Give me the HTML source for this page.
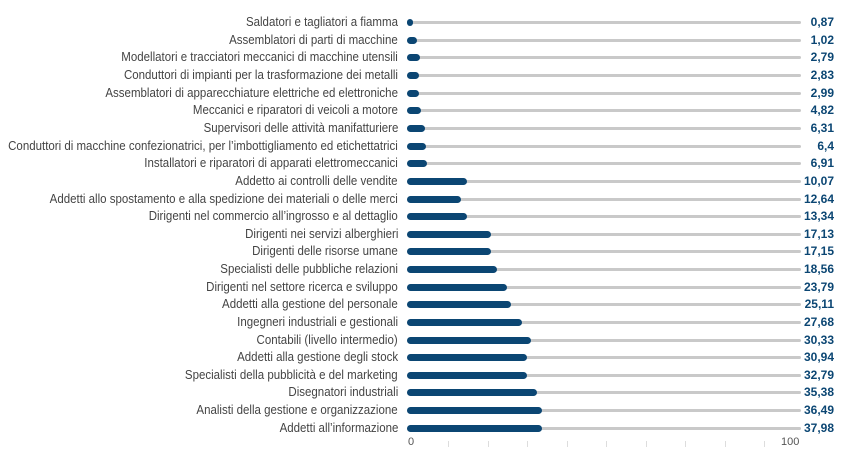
<!DOCTYPE html>
<html><head><meta charset="utf-8"><style>
body{margin:0;width:850px;height:453px;background:#fff;position:relative;overflow:hidden;font-family:"Liberation Sans",sans-serif}
.l{position:absolute;right:452px;white-space:nowrap;font-size:13px;color:#444;transform:scaleX(0.884);transform-origin:right center;line-height:14px}
.t{position:absolute;left:407px;width:394px;height:3px;background:#c9c9c9;border-radius:2px}
.b{position:absolute;left:407px;height:7px;background:#0b4673;border-radius:4px}
.v{position:absolute;right:16px;font-size:12px;font-weight:bold;color:#0b4673;line-height:14px}
.k{position:absolute;top:441px;width:1px;height:6px;background:#ddd}
.a{position:absolute;top:436px;font-size:11px;color:#555}
</style></head><body>
<div id="c"></div>
<script>
var d=[["Saldatori e tagliatori a fiamma",413.3,"0,87"],["Assemblatori di parti di macchine",416.7,"1,02"],["Modellatori e tracciatori meccanici di macchine utensili",420,"2,79"],["Conduttori di impianti per la trasformazione dei metalli",419.3,"2,83"],["Assemblatori di apparecchiature elettriche ed elettroniche",419.3,"2,99"],["Meccanici e riparatori di veicoli a motore",420.7,"4,82"],["Supervisori delle attività manifatturiere",424.7,"6,31"],["Conduttori di macchine confezionatrici, per l’imbottigliamento ed etichettatrici",425.7,"6,4"],["Installatori e riparatori di apparati elettromeccanici",427,"6,91"],["Addetto ai controlli delle vendite",466.7,"10,07"],["Addetti allo spostamento e alla spedizione dei materiali o delle merci",460.7,"12,64"],["Dirigenti nel commercio all’ingrosso e al dettaglio",466.7,"13,34"],["Dirigenti nei servizi alberghieri",490.7,"17,13"],["Dirigenti delle risorse umane",490.7,"17,15"],["Specialisti delle pubbliche relazioni",496.7,"18,56"],["Dirigenti nel settore ricerca e sviluppo",507.3,"23,79"],["Addetti alla gestione del personale",510.7,"25,11"],["Ingegneri industriali e gestionali",522.3,"27,68"],["Contabili (livello intermedio)",530.7,"30,33"],["Addetti alla gestione degli stock",526.7,"30,94"],["Specialisti della pubblicità e del marketing",526.7,"32,79"],["Disegnatori industriali",536.7,"35,38"],["Analisti della gestione e organizzazione",541.7,"36,49"],["Addetti all’informazione",541.7,"37,98"]];
var h="";
d.forEach(function(r,i){var y=22.7+i*17.63;
h+='<div class="l" style="top:'+(y-7.5)+'px">'+r[0]+'</div>';
h+='<div class="t" style="top:'+(y-1.5)+'px"></div>';
h+='<div class="b" style="top:'+(y-3.5)+'px;width:'+(r[1]-407)+'px"></div>';
h+='<div class="v" style="top:'+(y-7.5)+'px">'+r[2]+'</div>';});
for(var i=1;i<10;i++){h+='<div class="k" style="left:'+(408.5+i*39.5)+'px"></div>';}
h+='<div class="a" style="left:408px">0</div><div class="a" style="left:781px">100</div>';
document.getElementById("c").innerHTML=h;
</script>
</body></html>
